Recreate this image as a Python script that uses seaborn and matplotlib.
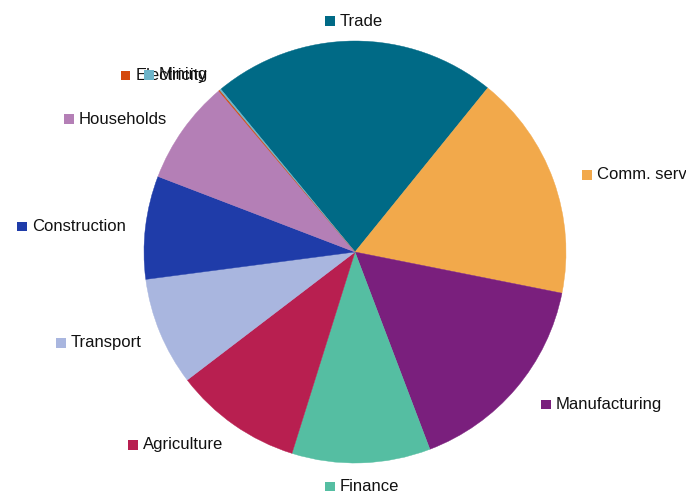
import numpy as np
import matplotlib
matplotlib.use("Agg")
import matplotlib.pyplot as plt
import seaborn as sns
from matplotlib.offsetbox import AnnotationBbox, HPacker, DrawingArea, TextArea
from matplotlib.patches import Rectangle

# Sector shares (%)
sectors = ["Trade", "Comm. serv", "Manufacturing", "Finance", "Agriculture",
           "Transport", "Construction", "Households", "Electricity", "Mining"]
shares = [21.8, 17.3, 16.1, 10.6, 9.8, 8.3, 7.9, 8.0, 0.1, 0.1]
colors = ["#006a86", "#f2a94b", "#7a1f7d", "#55bea2", "#b81f50",
          "#a9b6df", "#1f3ca9", "#b47fb6", "#d4490c", "#6cb4c9"]

sns.set_theme(style="white")
plt.rcParams["font.family"] = ["Liberation Sans", "DejaVu Sans"]
palette = sns.color_palette(colors)

fig = plt.figure(figsize=(6.86, 4.91), dpi=100)
ax = fig.add_axes([0, 0, 1, 1])

start = 129.5
wedges, _ = ax.pie(shares, colors=palette, startangle=start, counterclock=False,
                   radius=1.0, wedgeprops=dict(linewidth=0.3, antialiased=True))
for w, c in zip(wedges, palette):
    w.set_edgecolor(c)

px = 211.0  # pixels per data unit

# Labels: coloured square + name, placed radially outside each wedge
total = sum(shares)
cum = 0.0
r_lab = 233 / px
for name, val, col in zip(sectors, shares, palette):
    mid = start - (cum + val / 2) / total * 360.0
    cum += val
    th = np.deg2rad(mid)
    x, y = r_lab * np.cos(th), r_lab * np.sin(th) - 2 / px
    da = DrawingArea(7.0, 7.0, 0, 0)
    da.add_artist(Rectangle((0, 0), 7.0, 7.0, facecolor=col, edgecolor="none"))
    ta = TextArea(name, textprops=dict(fontsize=12, color="#111111"))
    box = HPacker(children=[da, ta], align="center", pad=0, sep=3.6)
    if np.cos(th) > 0.15:
        ha = 0.0
        x += 8 / px
    elif np.cos(th) < -0.15:
        ha = 1.0
        x += 2 / px
    else:
        ha = 0.5
    ab = AnnotationBbox(box, (x, y), xycoords="data", box_alignment=(ha, 0.5),
                        frameon=False, pad=0)
    ax.add_artist(ab)

ax.set_xlim(-355 / px, (686 - 355) / px)
ax.set_ylim(-(491 - 252) / px, 252 / px)
ax.set_aspect("auto")
ax.axis("off")

fig.savefig("out.png", dpi=100, facecolor="white")
